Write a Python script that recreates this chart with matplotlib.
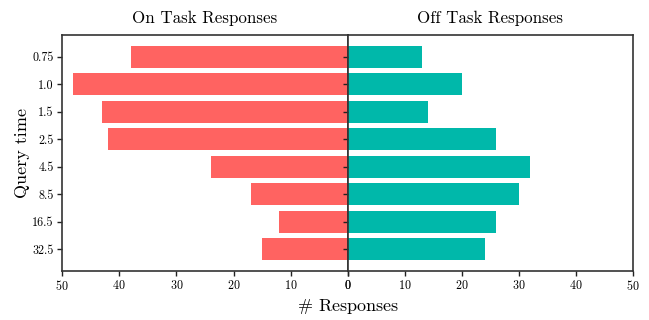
import matplotlib
matplotlib.use("Agg")
import matplotlib.pyplot as plt
import numpy as np

plt.rcParams['font.family'] = 'serif'
plt.rcParams['font.serif'] = ['cmr10']
plt.rcParams['mathtext.fontset'] = 'cm'
plt.rcParams['axes.formatter.use_mathtext'] = True

query_times = ["0.75", "1.0", "1.5", "2.5", "4.5", "8.5", "16.5", "32.5"]
on_task = [38, 48, 43, 42, 24, 17, 12, 15]
off_task = [13, 20, 14, 26, 32, 30, 26, 24]
x_ticks = [0, 10, 20, 30, 40, 50]

red = '#ff6361'
teal = '#00b8aa'
spine_color = '#333333'

fig = plt.figure(figsize=(6.49, 3.2), dpi=100)
ax_l = fig.add_axes([0.0955, 0.154, 0.4407, 0.737])
ax_r = fig.add_axes([0.5362, 0.154, 0.4391, 0.737], sharey=ax_l)

y = np.arange(len(query_times))
ax_l.barh(y, on_task, height=0.8, color=red)
ax_r.barh(y, off_task, height=0.8, color=teal)

ax_l.set_xlim(50, 0)
ax_r.set_xlim(0, 50)
ax_l.invert_yaxis()

for ax in (ax_l, ax_r):
    ax.set_xticks(x_ticks)
    ax.tick_params(axis='both', labelsize=8.7, length=3.5, width=1.0,
                   color='#222222', pad=2.5)
    for s in ax.spines.values():
        s.set_color(spine_color)
        s.set_linewidth(1.2)

ax_l.set_yticks(y)
ax_l.set_yticklabels(query_times)
ax_r.tick_params(axis='y', labelleft=False)

ax_l.set_title("On Task Responses", fontsize=12.2, pad=8.5)
ax_r.set_title("Off Task Responses", fontsize=12.2, pad=8.5)
ax_l.set_ylabel("Query time", fontsize=13, labelpad=1.5)
fig.text(0.5362, 0.012, r"$\#$ Responses", fontsize=13, ha='center', va='bottom')

fig.savefig("out.png", dpi=100)
